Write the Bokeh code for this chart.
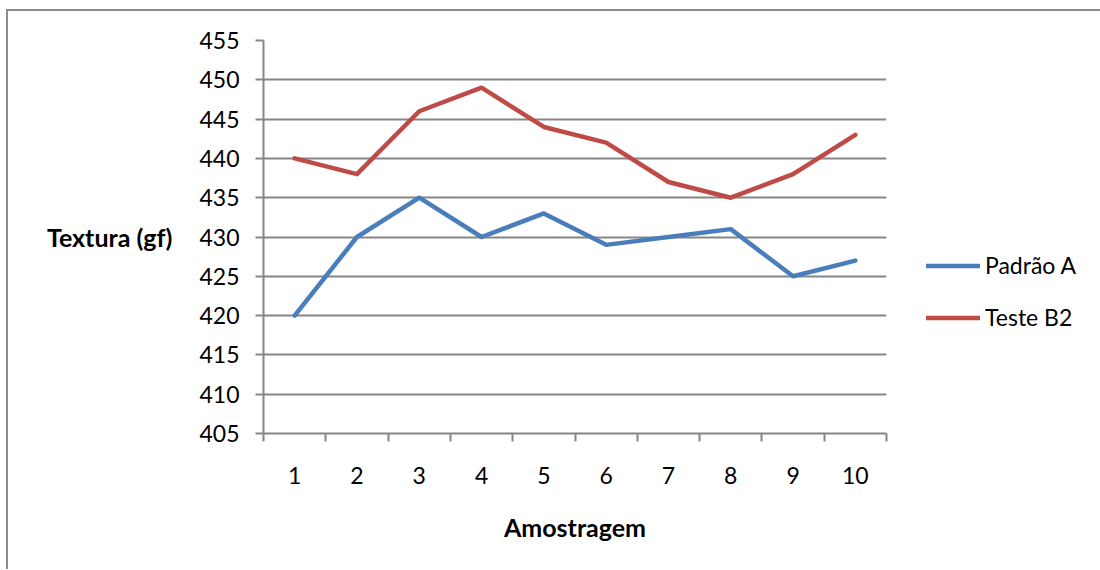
from bokeh.plotting import figure
from bokeh.models import FixedTicker, Legend, LegendItem, Range1d
from bokeh.embed import file_html
from bokeh.resources import INLINE

samples = [1, 2, 3, 4, 5, 6, 7, 8, 9, 10]
padrao_a = [420, 430, 435, 430, 433, 429, 430, 431, 425, 427]
teste_b2 = [440, 438, 446, 449, 444, 442, 437, 435, 438, 443]
y_ticks = [405, 410, 415, 420, 425, 430, 435, 440, 445, 450, 455]
series_names = ["Padrão A", "Teste B2"]

FONT = "Lato"
GRAY = "#868686"

p = figure(frame_width=623, frame_height=393, output_backend="svg", toolbar_location=None,
           x_range=Range1d(0.5, 10.5), y_range=Range1d(405, 455),
           min_border_left=255, min_border_right=206, min_border_top=29,
           min_border_bottom=136)
p.styles = {"border-left": "2px solid #8c8c8c", "border-top": "2px solid #8c8c8c",
            "margin-left": "6px", "margin-top": "9px"}
p.outline_line_color = None
p.background_fill_color = "white"
p.border_fill_color = "white"

r1 = p.line(samples, padrao_a, line_color="#4a7ebb", line_width=4.5, line_join="round", line_cap="round")
r2 = p.line(samples, teste_b2, line_color="#be4b48", line_width=4.5, line_join="round", line_cap="round")

# x axis
xa = p.xaxis[0]
xa.ticker = FixedTicker(ticks=samples, minor_ticks=[x + 0.5 for x in [0] + samples])
xa.major_tick_out = 0
xa.major_tick_in = 0
xa.minor_tick_out = 8
xa.minor_tick_in = 0
xa.minor_tick_line_color = GRAY
xa.minor_tick_line_width = 2
xa.axis_line_color = GRAY
xa.axis_line_width = 2
xa.major_label_text_font = FONT
xa.major_label_text_font_size = "23px"
xa.major_label_text_color = "black"
xa.major_label_standoff = 25
xa.axis_label = "Amostragem"
xa.axis_label_text_font = FONT
xa.axis_label_text_font_style = "bold"
xa.axis_label_text_font_size = "25px"
xa.axis_label_text_color = "black"
xa.axis_label_standoff = 25

# y axis
ya = p.yaxis[0]
ya.ticker = FixedTicker(ticks=y_ticks, minor_ticks=[])
ya.major_tick_out = 8
ya.major_tick_in = 0
ya.major_tick_line_color = GRAY
ya.major_tick_line_width = 2
ya.axis_line_color = GRAY
ya.axis_line_width = 2
ya.major_label_text_font = FONT
ya.major_label_text_font_size = "23px"
ya.major_label_text_color = "black"
ya.major_label_standoff = 16
ya.axis_label = "Textura (gf)"
ya.axis_label_orientation = "horizontal"
ya.axis_label_text_font = FONT
ya.axis_label_text_font_style = "bold"
ya.axis_label_text_font_size = "25px"
ya.axis_label_text_color = "black"
ya.axis_label_standoff = 24

p.xgrid.visible = False
p.ygrid.ticker = FixedTicker(ticks=y_ticks)
p.ygrid.grid_line_color = GRAY
p.ygrid.grid_line_width = 2

legend = Legend(items=[LegendItem(label=series_names[0], renderers=[r1]),
                       LegendItem(label=series_names[1], renderers=[r2])],
                location=(40, 102))
legend.border_line_color = None
legend.background_fill_alpha = 0
legend.padding = 0
legend.margin = 0
legend.spacing = 24
legend.glyph_width = 54
legend.glyph_height = 25
legend.label_height = 25
legend.label_standoff = 5
legend.label_text_font = FONT
legend.label_text_font_size = "23px"
legend.label_text_color = "black"
p.add_layout(legend, "right")

open("out.html", "w").write(file_html(p, INLINE))
